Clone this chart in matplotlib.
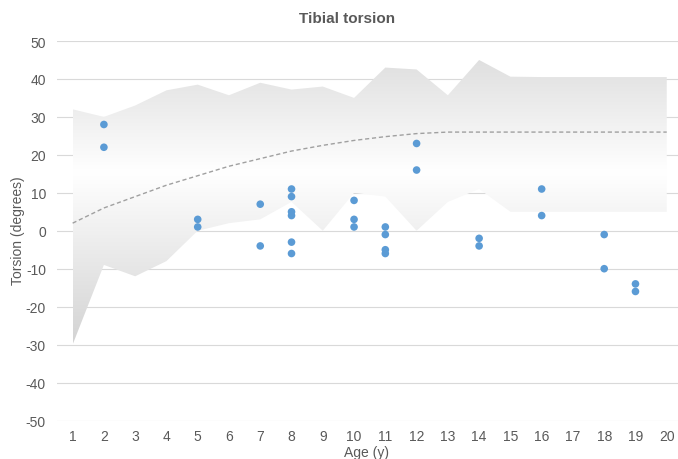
import numpy as np
import matplotlib
matplotlib.use("Agg")
import matplotlib.pyplot as plt
from matplotlib.colors import LinearSegmentedColormap

plt.rcParams['font.family'] = ['Liberation Sans', 'DejaVu Sans']
plt.rcParams['axes.unicode_minus'] = False

# normal range band (upper / lower limits by age) and mean trend
ages = np.arange(1, 21)
band_upper = [32, 30, 33, 37, 38.5, 35.7, 39, 37.2, 38, 35, 43, 42.5, 35.7, 45,
              40.6, 40.5, 40.5, 40.5, 40.5, 40.5]
band_lower = [-30, -9, -12, -8, 0, 2, 3, 7.6, 0, 10, 9, 0, 7.6, 11,
              5, 5, 5, 5, 5, 5]
trend = [2, 6, 9, 12, 14.5, 17, 19, 21, 22.5, 23.8, 24.8, 25.6, 26, 26,
         26, 26, 26, 26, 26, 26]

# measured patients
pt_age = [2, 2, 5, 5, 7, 7, 8, 8, 8, 8, 8, 8, 10, 10, 10, 11, 11, 11, 11,
          12, 12, 14, 14, 16, 16, 18, 18, 19, 19]
pt_torsion = [28, 22, 3, 1, 7, -4, 11, 9, 5, 4, -3, -6, 8, 3, 1, 1, -1, -5, -6,
              23, 16, -2, -4, 11, 4, -1, -10, -14, -16]

text_col = '#595959'

fig = plt.figure(figsize=(6.78, 4.6), dpi=100)
ax = fig.add_axes([57 / 678, 1 - 421.5 / 460, 621 / 678, 379.5 / 460])

# grey band with soft vertical gradient, light in the middle
poly = ax.fill_between(ages, band_lower, band_upper, facecolor='none',
                       edgecolor='none', zorder=1)
cmap = LinearSegmentedColormap.from_list(
    'band', [(0.0, '#d2d2d2'), (0.6, '#ffffff'), (1.0, '#dedede')])
grad = np.linspace(0, 1, 256).reshape(-1, 1)
img = ax.imshow(grad, cmap=cmap, origin='lower', aspect='auto',
                extent=[1, 20, -31, 46], zorder=1, interpolation='bicubic')
img.set_clip_path(poly.get_paths()[0], transform=ax.transData)
ax.set_xlim(0.5, 20.36)
ax.set_ylim(-50, 50)

ax.plot(ages, trend, linestyle=(0, (3, 2)), color='#a0a0a0', linewidth=1.0,
        zorder=3)
ax.scatter(pt_age, pt_torsion, s=30, color='#5b9bd5', edgecolors='none',
           zorder=4)

ax.set_yticks(np.arange(-50, 51, 10))
ax.set_xticks(ages)
ax.grid(axis='y', color='#d9d9d9', linewidth=0.8, zorder=0)
ax.set_axisbelow(True)
for s in ax.spines.values():
    s.set_visible(False)
ax.tick_params(axis='both', length=0, labelsize=10, labelcolor=text_col)
ax.tick_params(axis='y', pad=8)
ax.tick_params(axis='x', pad=6)

fig.text(347 / 678, 1 - 19 / 460, 'Tibial torsion', ha='center', va='center',
         fontsize=11, fontweight='bold', color=text_col)
fig.text(18 / 678, 1 - 231 / 460, 'Torsion (degrees)', rotation=90,
         ha='center', va='center', fontsize=10, color=text_col)
fig.text(367 / 678, 1 - 453 / 460, 'Age (y)', ha='center', va='center',
         fontsize=10, color=text_col)

fig.savefig('out.png', dpi=100)
